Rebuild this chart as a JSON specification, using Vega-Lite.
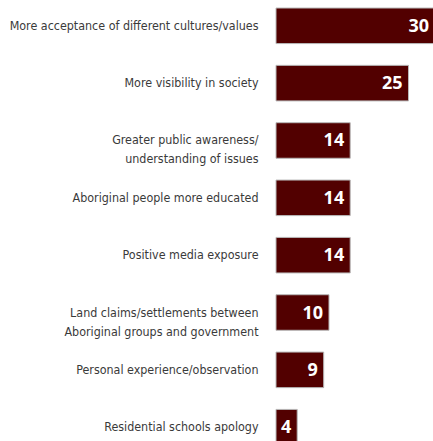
{
  "$schema": "https://vega.github.io/schema/vega-lite/v6.json",
  "autosize": "none",
  "width": 159,
  "height": 453,
  "padding": {"left": 276, "top": 0, "right": 0, "bottom": 0},
  "background": "white",
  "data": {
    "values": [
      {"order": 1, "label": "More acceptance of different cultures/values", "value": 30},
      {"order": 2, "label": "More visibility in society", "value": 25},
      {"order": 3, "label": "Greater public awareness/|understanding of issues", "value": 14},
      {"order": 4, "label": "Aboriginal people more educated", "value": 14},
      {"order": 5, "label": "Positive media exposure", "value": 14},
      {"order": 6, "label": "Land claims/settlements between|Aboriginal groups and government", "value": 10},
      {"order": 7, "label": "Personal experience/observation", "value": 9},
      {"order": 8, "label": "Residential schools apology", "value": 4}
    ]
  },
  "encoding": {
    "y": {
      "field": "label",
      "type": "nominal",
      "sort": {"field": "order"},
      "scale": {"paddingInner": 0.38, "paddingOuter": 0.14},
      "axis": {
        "title": null,
        "domain": false,
        "ticks": false,
        "labelPadding": 18,
        "labelFont": "DejaVu Sans Condensed",
        "labelFontSize": 12.4,
        "labelColor": "#3a3a3a",
        "labelLineHeight": 19,
        "labelLimit": 300,
        "labelExpr": "split(datum.value, '|')"
      }
    }
  },
  "layer": [
    {
      "mark": {"type": "bar", "fill": "#520000", "stroke": "#b8b8b8", "strokeWidth": 1},
      "encoding": {
        "x": {"field": "value", "type": "quantitative", "scale": {"domain": [0, 30]}, "axis": null}
      }
    },
    {
      "mark": {"type": "text", "align": "right", "baseline": "middle", "dx": -6, "dy": 1, "color": "white", "font": "Open Sans", "fontWeight": "bold", "fontSize": 18},
      "encoding": {
        "x": {"field": "value", "type": "quantitative"},
        "text": {"field": "value", "type": "quantitative"}
      }
    }
  ],
  "config": {"view": {"stroke": null}}
}
